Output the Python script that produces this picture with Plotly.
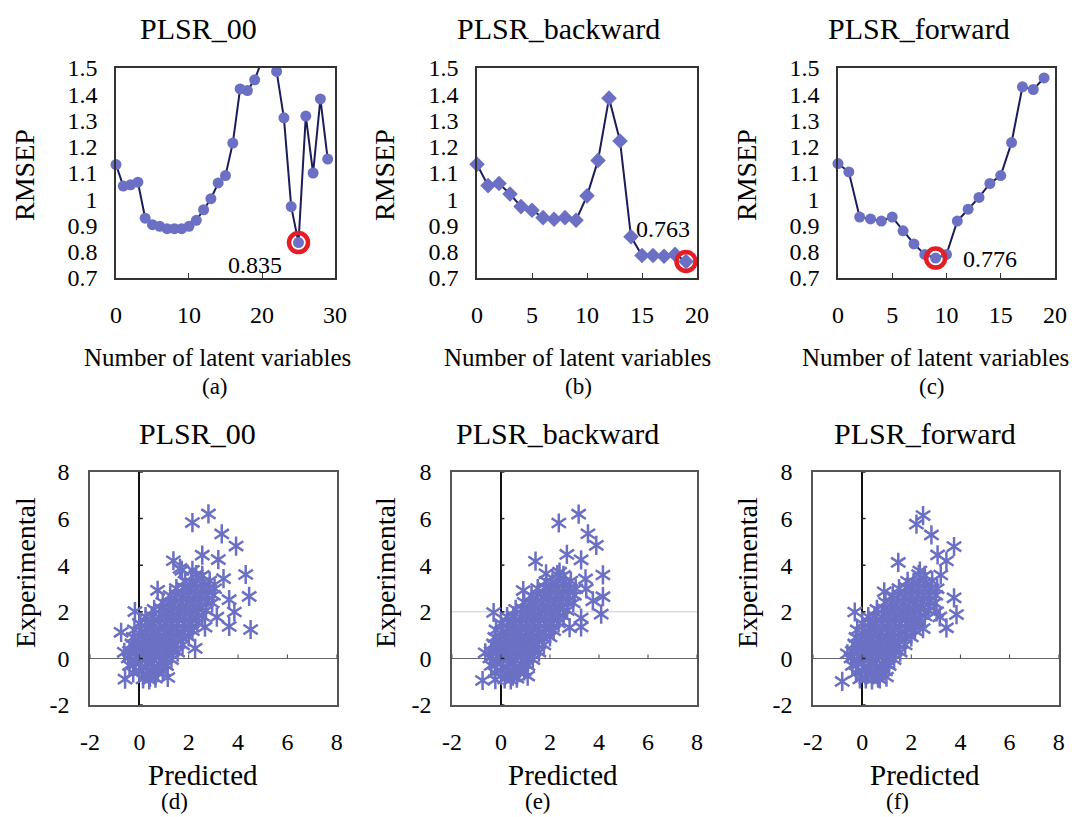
import plotly.graph_objects as go

# ---------------- data: RMSEP curves ----------------
lv_a = list(range(30))
rmsep_a = [1.132, 1.05, 1.055, 1.065, 0.928, 0.903, 0.897, 0.888, 0.888, 0.888,
           0.897, 0.92, 0.96, 1.002, 1.062, 1.09, 1.214, 1.42, 1.414, 1.455,
           1.53, 1.56, 1.487, 1.31, 0.972, 0.835, 1.317, 1.10, 1.382, 1.153]
lv_b = list(range(20))
rmsep_b = [1.133, 1.052, 1.06, 1.02, 0.972, 0.958, 0.93, 0.924, 0.93, 0.92,
           1.013, 1.148, 1.385, 1.222, 0.857, 0.786, 0.786, 0.783, 0.79, 0.763]
lv_c = list(range(20))
rmsep_c = [1.136, 1.104, 0.932, 0.925, 0.917, 0.932, 0.88, 0.83, 0.79, 0.776,
           0.79, 0.917, 0.962, 1.007, 1.06, 1.09, 1.216, 1.428, 1.418, 1.462]

# ---------------- data: predicted vs experimental ----------------
core_pred = [0.15, 0.4, 0.65,
             -0.25, 0.0, 0.25, 0.5, 0.75, 0.95,
             -0.4, -0.15, 0.1, 0.35, 0.6, 0.85, 1.1,
             -0.45, -0.2, 0.05, 0.3, 0.55, 0.8, 1.05, 1.3,
             -0.4, -0.15, 0.1, 0.35, 0.6, 0.85, 1.1, 1.35, 1.55,
             -0.3, -0.05, 0.2, 0.45, 0.7, 0.95, 1.2, 1.45, 1.75,
             -0.25, 0.0, 0.25, 0.5, 0.75, 1.0, 1.25, 1.5, 1.75, 2.0,
             -0.2, 0.1, 0.35, 0.6, 0.85, 1.1, 1.35, 1.6, 1.85, 2.15,
             0.0, 0.3, 0.55, 0.8, 1.05, 1.3, 1.55, 1.8, 2.05, 2.35,
             0.25, 0.5, 0.8, 1.05, 1.3, 1.55, 1.8, 2.05, 2.3, 2.55,
             0.6, 0.9, 1.15, 1.4, 1.65, 1.9, 2.15, 2.4, 2.7,
             0.95, 1.2, 1.45, 1.7, 1.95, 2.2, 2.45, 2.7, 2.95,
             1.25, 1.5, 1.75, 2.0, 2.25, 2.5, 2.75, 3.0,
             1.5, 1.8, 2.05, 2.3, 2.55, 2.8, 3.05,
             1.85, 2.1, 2.35, 2.6, 2.85,
             2.3, 2.55]
core_exp = [-0.88, -0.92, -0.85,
            -0.62, -0.55, -0.66, -0.58, -0.61, -0.54,
            -0.30, -0.24, -0.35, -0.28, -0.33, -0.26, -0.31,
            0.02, -0.04, 0.05, 0.0, -0.03, 0.04, 0.0, -0.05,
            0.30, 0.34, 0.27, 0.31, 0.26, 0.33, 0.29, 0.32, 0.27,
            0.62, 0.57, 0.63, 0.59, 0.61, 0.56, 0.64, 0.60, 0.58,
            0.90, 0.94, 0.87, 0.92, 0.88, 0.93, 0.89, 0.91, 0.86, 0.92,
            1.22, 1.17, 1.23, 1.19, 1.24, 1.18, 1.21, 1.16, 1.22, 1.19,
            1.50, 1.54, 1.47, 1.52, 1.48, 1.53, 1.49, 1.51, 1.46, 1.52,
            1.79, 1.83, 1.77, 1.82, 1.78, 1.84, 1.79, 1.81, 1.76, 1.82,
            2.10, 2.13, 2.07, 2.12, 2.08, 2.14, 2.09, 2.11, 2.06,
            2.41, 2.37, 2.43, 2.38, 2.42, 2.36, 2.40, 2.44, 2.38,
            2.70, 2.74, 2.67, 2.72, 2.68, 2.73, 2.69, 2.71,
            3.00, 3.04, 2.97, 3.02, 2.98, 3.03, 2.99,
            3.31, 3.27, 3.33, 3.28, 3.32,
            3.60, 3.56]

out_pred_d = [2.80, 2.15, 3.34, 3.92, 2.55, 3.20, 1.38, 4.31, 3.41, 4.45, 4.51, 3.64,
              3.85, 3.64, 3.14, 2.66, 2.26, 0.74, -0.18, -0.74, -0.61, -0.58, 1.15,
              0.43, 1.72, 2.15, 1.65]
out_exp_d = [6.20, 5.83, 5.34, 4.82, 4.43, 4.24, 4.19, 3.60, 3.42, 2.66, 1.24, 2.52,
             1.99, 1.37, 1.77, 1.34, 0.43, 2.92, 2.01, 1.12, 0.26, -0.89, -0.82,
             -0.82, 3.78, 3.78, 3.86]
out_pred_e = [3.17, 2.36, 3.55, 3.89, 2.69, 3.27, 1.41, 4.16, 3.45, 4.16, 3.75, 4.09,
              3.27, 3.27, 2.80, 0.91, -0.30, -0.64, -0.75, -0.23, 0.48, 1.09, 1.84,
              2.39, 3.48]
out_exp_e = [6.19, 5.81, 5.35, 4.85, 4.46, 4.23, 4.17, 3.58, 3.41, 2.65, 2.47, 1.90,
             1.73, 1.35, 1.32, 2.91, 1.97, 0.24, -0.95, -0.91, -0.76, -0.76, 3.63,
             3.70, 2.98]
out_pred_f = [2.48, 2.21, 2.82, 3.74, 3.07, 3.43, 1.47, 2.35, 3.20, 3.74, 3.84, 3.43,
              3.16, 0.90, -0.30, -0.60, -0.81, -0.09, 0.72, 0.99, 2.48, 3.03]
out_exp_f = [6.13, 5.76, 5.30, 4.80, 4.44, 4.18, 4.12, 3.75, 3.58, 2.60, 1.88, 1.31,
             1.78, 2.86, 1.99, 0.20, -0.99, -0.88, -0.88, -0.80, 1.28, 2.00]

titles = ["PLSR_00", "PLSR_backward", "PLSR_forward"]
panel_tags_top = ["(a)", "(b)", "(c)"]
panel_tags_bot = ["(d)", "(e)", "(f)"]
scatter_ticks = [-2, 0, 2, 4, 6, 8]
scatter_ticktext = ["-2", "0", "2", "4", "6", "8"]

# ---------------- styling ----------------
SERIF = "Liberation Serif, Times New Roman, Times, serif"
MARK = "#6b70c4"
LINE = "#1c1c58"
RED = "#e31e24"
FRAME = "#333333"

fig = go.Figure()

top_dom_y = [0.6597, 0.9168]
top_dom_x = [[0.1082, 0.3125], [0.4450, 0.6502], [0.7817, 0.9841]]
bot_dom_y = [0.1371, 0.4223]
bot_dom_x = [[0.0840, 0.3141], [0.4216, 0.6502], [0.7584, 0.9876]]

curves = [(lv_a, rmsep_a, "circle", 30, [0, 10, 20, 30]),
          (lv_b, rmsep_b, "diamond", 20, [0, 5, 10, 15, 20]),
          (lv_c, rmsep_c, "circle", 20, [0, 5, 10, 15, 20])]
ylo, yhi = 0.7, 1.5
ytv = [0.7, 0.8, 0.9, 1.0, 1.1, 1.2, 1.3, 1.4, 1.5]
ytt = ["0.7", "0.8", "0.9", "1", "1.1", "1.2", "1.3", "1.4", "1.5"]

ann_offsets = [(-6.0, -0.085), (-2.1, 0.124), (5.0, -0.004)]

for i, (xs, ys, sym, xmax, xtv) in enumerate(curves):
    xa = f"x{i+1}" if i else "x"
    ya = f"y{i+1}" if i else "y"
    fig.add_trace(go.Scatter(x=xs, y=ys, mode="lines", line=dict(color=LINE, width=2),
                             xaxis=xa, yaxis=ya, showlegend=False, hoverinfo="skip"))
    inx = [x for x, y in zip(xs, ys) if ylo <= y <= yhi]
    iny = [y for y in ys if ylo <= y <= yhi]
    fig.add_trace(go.Scatter(x=inx, y=iny, mode="markers", cliponaxis=False,
                             marker=dict(symbol=sym, size=11 if sym == "circle" else 12,
                                         color=MARK, line=dict(width=0)),
                             xaxis=xa, yaxis=ya, showlegend=False))
    k = ys.index(min(ys))
    fig.add_trace(go.Scatter(x=[xs[k]], y=[ys[k]], mode="markers", cliponaxis=False,
                             marker=dict(symbol="circle-open", size=19, color=RED,
                                         line=dict(color=RED, width=4.5)),
                             xaxis=xa, yaxis=ya, showlegend=False))
    dx, dy = ann_offsets[i]
    fig.add_annotation(x=xs[k] + dx, y=ys[k] + dy, xref=xa, yref=ya, text=f"{ys[k]:.3f}",
                       showarrow=False, font=dict(family=SERIF, size=24, color="black"))
    axkw = dict(showline=True, mirror=True, linecolor=FRAME, linewidth=1.5,
                showgrid=False, zeroline=False, automargin=False)
    fig.layout[f"xaxis{i+1 if i else ''}"] = dict(
        domain=top_dom_x[i], anchor=ya, range=[0, xmax], tickvals=xtv,
        ticks="inside", ticklen=5, tickcolor=FRAME, ticklabelstandoff=14,
        tickfont=dict(family=SERIF, size=24, color="black"), **axkw)
    fig.layout[f"yaxis{i+1 if i else ''}"] = dict(
        domain=top_dom_y, anchor=xa, range=[ylo, yhi], tickvals=ytv, ticktext=ytt,
        ticks="", ticklabelstandoff=12,
        tickfont=dict(family=SERIF, size=24, color="black"), **axkw)

scatters = [(core_pred + out_pred_d, core_exp + out_exp_d),
            (core_pred + out_pred_e, core_exp + out_exp_e),
            (core_pred + out_pred_f, core_exp + out_exp_f)]
shapes = []
for j, (px, ey) in enumerate(scatters):
    n = j + 4
    xa, ya = f"x{n}", f"y{n}"
    # six-armed asterisk = two overlaid three-armed "Y" glyphs
    for sym in ("y-up-open", "y-down-open"):
        fig.add_trace(go.Scatter(x=px, y=ey, mode="markers",
                                 marker=dict(symbol=sym, size=12, color=MARK,
                                             line=dict(color=MARK, width=2.5)),
                                 xaxis=xa, yaxis=ya, showlegend=False))
    axkw = dict(showline=True, mirror=True, linecolor="#555555", linewidth=1.5,
                showgrid=False, range=[-2, 8], tickvals=scatter_ticks,
                ticktext=scatter_ticktext, ticks="", automargin=False,
                ticklabelstandoff=14, tickfont=dict(family=SERIF, size=24, color="black"))
    fig.layout[f"xaxis{n}"] = dict(domain=bot_dom_x[j], anchor=ya, zeroline=True,
                                   zerolinecolor="#111111", zerolinewidth=1.5, **axkw)
    fig.layout[f"yaxis{n}"] = dict(domain=bot_dom_y, anchor=xa, zeroline=True,
                                   zerolinecolor="#666666", zerolinewidth=1, **axkw)
    for t in scatter_ticks:
        shapes.append(dict(type="line", xref=xa, yref=ya, x0=t, x1=t, y0=0, y1=0.17,
                           line=dict(color="#444444", width=1)))
        shapes.append(dict(type="line", xref=xa, yref=ya, x0=0, x1=0.14, y0=t, y1=t,
                           line=dict(color="#222222", width=1.5)))
    if j == 1:
        shapes.append(dict(type="line", xref=xa, yref=ya, x0=-2, x1=8, y0=2, y1=2,
                           layer="below", line=dict(color="#cccccc", width=1)))
fig.update_layout(shapes=shapes)

def txt(x, y, s, size, angle=0):
    fig.add_annotation(x=x / 1072, y=1 - y / 817, xref="paper", yref="paper", text=s,
                       showarrow=False, textangle=angle, xanchor="center", yanchor="middle",
                       borderpad=0, font=dict(family=SERIF, size=size, color="black"))

top_title_x = [198, 558, 919]
top_ylab_x = [25, 385, 747]
top_xlab_x = [217, 577, 935]
top_tag_x = [215, 578, 932]
for i in range(3):
    txt(top_title_x[i], 28, titles[i], 30)
    txt(top_ylab_x[i], 175, "RMSEP", 28, -90)
    txt(top_xlab_x[i], 357, "Number of latent variables", 25)
    txt(top_tag_x[i], 387, panel_tags_top[i], 23)

bot_title_x = [197, 557, 925]
bot_ylab_x = [25, 385, 747]
bot_xlab_x = [203, 563, 925]
bot_tag_x = [174, 538, 897]
for j in range(3):
    txt(bot_title_x[j], 433, titles[j], 30)
    txt(bot_ylab_x[j], 573, "Experimental", 28, -90)
    txt(bot_xlab_x[j], 775, "Predicted", 29)
    txt(bot_tag_x[j], 801, panel_tags_bot[j], 23)

fig.update_layout(template="none", width=1072, height=817,
                  margin=dict(l=0, r=0, t=0, b=0, pad=0),
                  paper_bgcolor="white", plot_bgcolor="white", showlegend=False)

fig.write_html("out.html", config={"displayModeBar": False},
               post_script="document.body.style.margin='0px';"
                           "document.body.style.overflow='hidden';")
